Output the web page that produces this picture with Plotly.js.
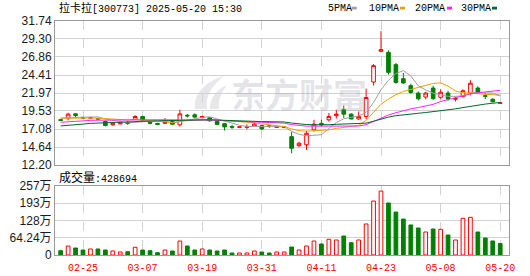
<!DOCTYPE html>
<html><head><meta charset="utf-8">
<script src="https://cdn.plot.ly/plotly-3.0.1.min.js"></script>
<style>html,body{margin:0;padding:0;background:#fff;}#chart{width:530px;height:276px;}</style>
</head><body><div id="chart"></div>
<script>
// ---------- data ----------
const dates=['02-20','02-21','02-24','02-25','02-26','02-27','02-28','03-03','03-04','03-05','03-06','03-07','03-10','03-11','03-12','03-13','03-14','03-17','03-18','03-19','03-20','03-21','03-24','03-25','03-26','03-27','03-28','03-31','04-01','04-02','04-03','04-07','04-08','04-09','04-10','04-11','04-14','04-15','04-16','04-17','04-18','04-21','04-22','04-23','04-24','04-25','04-28','04-29','04-30','05-06','05-07','05-08','05-09','05-12','05-13','05-14','05-15','05-16','05-19','05-20'];
const openP=[18.35,18.56,19.14,18.62,18.55,18.50,18.10,17.65,17.78,17.99,18.40,18.78,17.99,17.85,17.85,18.10,17.65,18.94,19.01,18.64,18.60,18.10,17.81,17.42,17.31,17.31,17.42,17.55,17.51,17.31,17.28,16.05,14.83,14.95,16.97,17.85,18.33,18.90,19.70,19.10,18.45,18.79,23.46,27.63,27.49,25.82,23.91,22.96,21.96,21.42,22.64,21.39,21.96,21.12,21.50,21.96,22.64,21.60,21.12,20.57];
const highP=[18.45,19.28,19.21,18.75,18.75,18.60,18.23,17.99,18.05,18.19,18.94,18.87,18.12,17.92,18.56,18.19,19.69,19.14,19.21,18.87,18.67,18.19,17.88,17.65,17.37,17.71,17.99,17.65,17.65,17.44,17.45,16.74,15.35,16.83,18.33,18.33,19.24,19.70,20.27,19.24,19.46,22.55,25.90,30.35,27.76,26.05,24.69,23.23,22.18,22.14,22.96,22.48,22.28,21.46,22.48,23.71,22.89,21.94,21.26,20.71];
const lowP=[18.20,18.26,18.67,18.50,18.50,18.30,17.44,17.51,17.71,17.65,18.33,18.19,17.71,17.60,17.78,17.65,17.42,18.64,18.60,18.60,18.12,17.65,16.87,17.10,17.28,17.03,17.37,16.97,17.24,17.24,17.20,13.80,14.60,14.25,16.74,17.45,18.10,18.50,18.60,18.40,18.33,18.40,23.00,27.50,24.46,23.23,23.23,21.87,20.98,21.12,21.05,21.19,20.92,20.82,21.32,21.66,21.87,21.15,20.71,20.51];
const closeP=[18.25,19.10,18.91,18.58,18.65,18.45,17.55,17.88,17.92,17.85,18.78,18.29,17.88,17.72,17.99,17.74,19.14,18.87,18.70,18.78,18.19,17.71,17.37,17.33,17.37,17.37,17.74,17.10,17.44,17.37,17.35,14.47,15.15,16.50,17.74,17.65,18.79,19.10,19.10,18.45,18.79,21.36,25.68,27.86,24.77,23.41,23.33,22.05,21.19,21.96,21.21,22.07,21.15,21.21,22.28,23.30,21.96,21.53,20.78,20.64];
const volume=[160000,335000,260000,186000,224000,224000,186000,149000,112000,123000,287000,186000,160000,86000,186000,149000,520000,335000,186000,224000,186000,149000,186000,75000,75000,75000,149000,112000,75000,112000,112000,298000,186000,335000,520000,410000,585000,559000,708000,458000,559000,1155000,2010000,2380000,1937000,1600000,1340000,1118000,1006000,857000,969000,957000,745000,559000,1367000,1404000,857000,633000,522000,428694];
const volUp=[0,1,0,0,1,0,0,1,1,0,1,0,0,0,1,0,1,0,0,1,0,0,0,0,1,1,1,0,0,1,1,0,1,1,1,0,1,1,0,0,1,1,1,1,0,0,0,0,0,1,0,1,0,1,1,1,0,0,0,0];
const ma5=[18.55,18.62,18.68,18.70,18.70,18.74,18.43,18.22,18.09,17.93,18.00,18.14,18.14,18.10,18.12,17.92,18.10,18.30,18.49,18.65,18.74,18.45,18.15,17.88,17.59,17.43,17.44,17.38,17.40,17.40,17.40,16.75,16.36,16.17,16.24,16.30,17.17,17.96,18.48,18.62,18.85,19.35,20.67,22.42,23.69,24.62,25.01,24.28,22.95,22.39,21.95,21.70,21.52,21.52,21.58,22.00,21.98,22.06,21.97,21.64];
const ma10=[18.55,18.58,18.60,18.60,18.58,18.55,18.50,18.45,18.38,18.31,18.37,18.29,18.18,18.10,18.04,17.97,18.13,18.22,18.30,18.40,18.34,18.28,18.23,18.18,18.12,18.08,17.94,17.77,17.64,17.50,17.42,17.09,16.87,16.79,16.82,16.85,16.96,17.16,17.32,17.43,17.57,18.26,19.31,20.45,21.15,21.73,22.18,22.48,22.68,23.04,23.28,23.35,22.90,22.24,21.99,21.98,21.84,21.79,21.75,21.61];
const ma20=[18.00,18.08,18.15,18.20,18.25,18.28,18.30,18.32,18.33,18.33,18.34,18.35,18.35,18.34,18.33,18.33,18.35,18.36,18.36,18.35,18.35,18.28,18.21,18.14,18.08,18.02,18.03,18.00,17.97,17.95,17.88,17.68,17.55,17.48,17.47,17.47,17.45,17.46,17.48,17.46,17.49,17.67,18.09,18.62,18.99,19.29,19.57,19.82,20.00,20.23,20.43,20.81,21.11,21.34,21.57,21.85,22.01,22.13,22.21,22.33];
const ma30=[17.50,17.55,17.65,17.75,17.85,17.90,17.95,18.00,18.02,18.05,18.10,18.15,18.18,18.20,18.22,18.25,18.28,18.30,18.32,18.33,18.33,18.30,18.25,18.20,18.15,18.12,18.10,18.09,18.08,18.07,18.04,17.89,17.76,17.69,17.66,17.63,17.67,17.72,17.75,17.77,17.77,17.88,18.14,18.47,18.70,18.89,19.03,19.13,19.22,19.32,19.42,19.57,19.69,19.82,19.99,20.18,20.32,20.47,20.58,20.69];
const priceTicks=[12.20,14.64,17.08,19.53,21.97,24.41,26.86,29.30,31.74];
const volTicks=[0,642400,1284800,1927200,2569600];
const volTickText=['0','64.24万','128万','193万','257万'];
const dateTicks=['02-25','03-07','03-19','03-31','04-11','04-23','05-08','05-20'];
const maNames=['5PMA','10PMA','20PMA','30PMA'];
const stockName='拉卡拉';
const stockCode='300773';
const stamp='2025-05-20 15:30';
const lastVolume=428694;

// ---------- layout helpers ----------
const W=530,H=276,L=55,R=21,T=21,B=21;
const pw=W-L-R, ph=H-T-B;
const px=x=>(x-L)/pw, py=y=>(H-B-y)/ph;
const RED='#ff0000', GREEN='#008000';
const maColors=['#a0a0a0','#f0a000','#ff22ff','#006a2c'];
const mono='Liberation Mono, DejaVu Sans Mono, Noto Sans CJK SC, monospace';
const sans='Liberation Sans, Arial, Noto Sans CJK SC, sans-serif';

const traces=[{
  type:'candlestick', x:dates, open:openP, high:highP, low:lowP, close:closeP,
  xaxis:'x', yaxis:'y', hoverinfo:'skip', whiskerwidth:0,
  increasing:{line:{color:RED,width:1}, fillcolor:'#ffffff'},
  decreasing:{line:{color:GREEN,width:1}, fillcolor:GREEN}
}];
[ma5,ma10,ma20,ma30].forEach((m,i)=>traces.push({
  type:'scatter', mode:'lines', x:dates, y:m, xaxis:'x', yaxis:'y',
  line:{color:maColors[i], width:1}, hoverinfo:'skip'
}));
traces.push({
  type:'bar', x:dates, y:volume, xaxis:'x2', yaxis:'y2', hoverinfo:'skip',
  marker:{color:volUp.map(u=>u?'#ffffff':GREEN), line:{color:volUp.map(u=>u?RED:GREEN), width:1}}
});

const xrange=[-0.76,60.18];
const gridC='#d2d2d2', frameC='#9a9a9a';
const annotations=[
  {text:'<span style="font-size:11px">'+stockName+'</span>['+stockCode+'] '+stamp, x:px(57), y:py(8.5), xanchor:'left', yanchor:'middle'},
  {text:'<span style="font-size:12px">成交量</span>:'+lastVolume, x:px(57), y:py(177.5), xanchor:'left', yanchor:'middle'},
  {text:'东方财富', x:px(299), y:py(93), xanchor:'center', yanchor:'middle',
   font:{family:'Noto Sans CJK SC, sans-serif', size:34, color:'rgba(150,150,165,0.25)', weight:700}}
];
const legX=[325.7,367,413,459], sqX=[351.7,400,447,492];
const shapes=[];
maNames.forEach((n,i)=>{
  annotations.push({text:n, x:px(legX[i]), y:py(8.5), xanchor:'left', yanchor:'middle'});
  shapes.push({type:'rect', xref:'paper', yref:'paper', x0:px(sqX[i]), x1:px(sqX[i]+5), y0:py(9.5), y1:py(6.7), fillcolor:maColors[i], line:{width:0}});
});
annotations.forEach(a=>{a.xref='paper';a.yref='paper';a.showarrow=false;a.font=a.font||{family:mono,size:10,color:'#000'};});
const P=(x,y)=>px(x).toFixed(4)+','+py(y).toFixed(4);
shapes.push({type:'path', xref:'paper', yref:'paper', layer:'below', fillcolor:'#e7e7ea', line:{width:0},
  path:'M'+P(195,109)+' C'+P(193,95)+' '+P(204,82)+' '+P(224,76)+' C'+P(211,86)+' '+P(205,97)+' '+P(207,109)+' Z'});
shapes.push({type:'path', xref:'paper', yref:'paper', layer:'below', fillcolor:'#e7e7ea', line:{width:0},
  path:'M'+P(210,109)+' C'+P(210,98)+' '+P(216,90)+' '+P(227,85)+' C'+P(221,93)+' '+P(218,100)+' '+P(219,109)+' Z'});

const axBase={showline:true, linecolor:frameC, linewidth:1, mirror:true, zeroline:false, fixedrange:true};
const layout={
  width:W, height:H, margin:{l:L,r:R,t:T,b:B}, paper_bgcolor:'#ffffff', plot_bgcolor:'rgba(0,0,0,0)',
  showlegend:false, hovermode:false, dragmode:false, boxgap:0.3, boxgroupgap:0.3, bargap:0.5,
  xaxis:Object.assign({}, axBase, {type:'category', anchor:'y', domain:[0,1], range:xrange, tickvals:dateTicks,
    showticklabels:false, ticks:'', showgrid:true, gridcolor:gridC, griddash:'dash', rangeslider:{visible:false}}),
  xaxis2:Object.assign({}, axBase, {type:'category', anchor:'y2', domain:[0,1], range:xrange, tickvals:dateTicks, ticktext:dateTicks,
    tickfont:{family:mono,size:10,color:RED}, ticks:'outside', ticklen:3, tickcolor:'rgba(0,0,0,0)',
    showgrid:true, gridcolor:gridC, griddash:'dash'}),
  yaxis:Object.assign({}, axBase, {domain:[py(165),1], range:[priceTicks[0],priceTicks[priceTicks.length-1]],
    tickvals:priceTicks, ticktext:priceTicks.map(v=>v.toFixed(2)), ticks:'',
    tickfont:{family:sans,size:12,color:'#1a1a1a'}, showgrid:true, gridcolor:gridC}),
  yaxis2:Object.assign({}, axBase, {domain:[0,py(186)], range:[0,volTicks[volTicks.length-1]],
    tickvals:volTicks, ticktext:volTickText, ticks:'',
    tickfont:{family:sans,size:12,color:'#1a1a1a'}, showgrid:true, gridcolor:gridC}),
  annotations:annotations, shapes:shapes
};
Plotly.newPlot('chart', traces, layout, {staticPlot:true, displayModeBar:false});
</script></body></html>
